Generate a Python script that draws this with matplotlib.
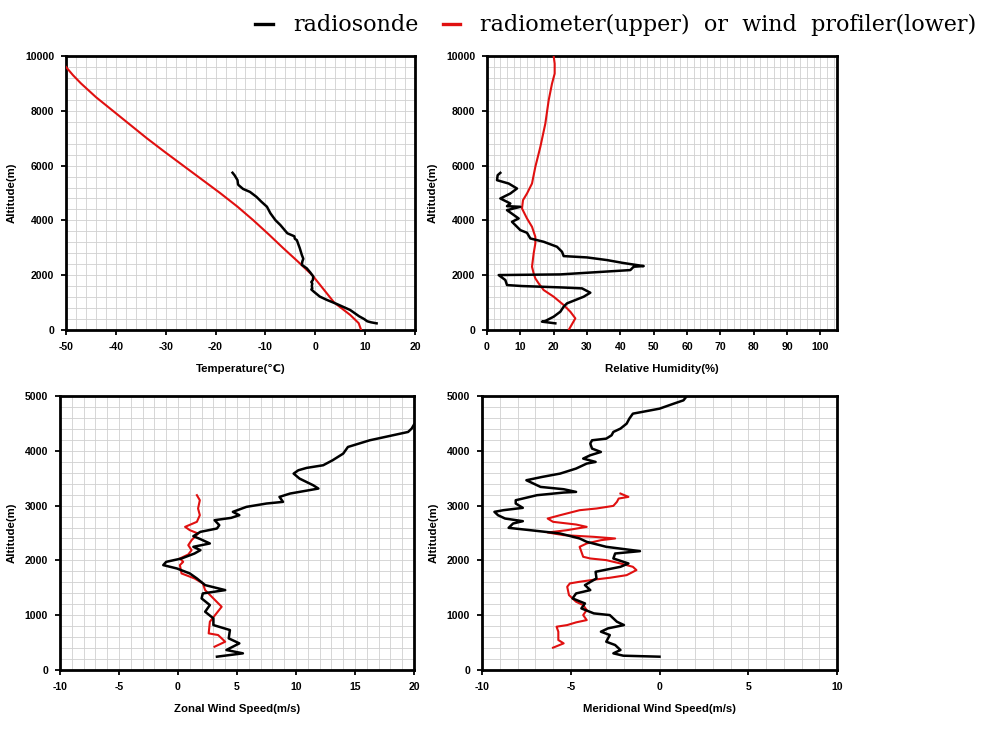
import matplotlib
matplotlib.use("Agg")
import matplotlib.pyplot as plt
from matplotlib.lines import Line2D
from matplotlib.ticker import MultipleLocator
import numpy as np

plt.rcParams["axes.unicode_minus"] = False

# ---------------- data ----------------
# Temperature panel
temp_sonde_alt = [243, 280, 320, 400, 500, 730, 950, 1100, 1220, 1400, 1480, 1520, 1600, 1700, 1750,
                  1820, 1950, 2100, 2250, 2380, 2500, 2600, 2740, 2980, 3280, 3330, 3420, 3530, 3830,
                  4010, 4260, 4500, 4680, 4860, 5040, 5150, 5290, 5320, 5470, 5650, 5740]
temp_sonde_val = [12.3, 11.2, 10.4, 9.8, 8.8, 7.0, 4.3, 2.3, 0.9, -0.3, -0.8, -0.6, -0.7, -0.6, -0.8,
                  -0.5, -0.4, -1.0, -1.7, -2.7, -2.6, -2.4, -2.7, -3.1, -3.7, -4.1, -4.2, -5.6, -7.0,
                  -8.0, -9.0, -9.7, -10.8, -11.8, -13.1, -14.5, -15.4, -15.5, -15.6, -16.2, -16.6]
temp_radio_alt = [0, 250, 550, 1000, 1500, 2000, 2500, 3000, 3500, 4000, 4500, 5000, 5500, 6000,
                  6500, 7000, 7500, 8000, 8500, 9000, 9300, 9600]
temp_radio_val = [9.2, 8.7, 7.0, 3.8, 1.6, -0.6, -3.5, -6.5, -9.4, -12.4, -15.6, -19.1, -22.8, -26.5,
                  -30.2, -33.8, -37.2, -40.6, -44.0, -47.0, -48.6, -50.0]

# Relative humidity panel
rh_sonde_alt = [243, 304, 330, 486, 668, 851, 972, 1069, 1215, 1361, 1519, 1555, 1604, 1640, 1823,
                2005, 2029, 2187, 2309, 2333, 2406, 2454, 2552, 2649, 2697, 2855, 3038, 3220, 3341,
                3548, 3645, 3949, 4070, 4374, 4496, 4520, 4617, 4800, 4982, 5164, 5346, 5468, 5650, 5735]
rh_sonde_val = [20.5, 16.5, 17.5, 20, 22, 23, 24, 26, 29, 31, 28.5, 22, 10.5, 6, 5.5,
                3.5, 22, 43, 44, 47, 43, 40.5, 36, 30, 23, 22.5, 21, 17, 13,
                12, 10, 7.5, 9.5, 6, 10, 6, 7, 4, 7, 9, 6.5, 3, 3.2, 4]
rh_radio_alt = [0, 425, 668, 911, 1215, 1458, 1701, 1883, 2066, 2309, 2795, 3159, 3402, 3767, 4070,
                4435, 4739, 4982, 5346, 5954, 6683, 7533, 8384, 8991, 9356, 9721, 10000]
rh_radio_val = [24.5, 26.5, 25, 23, 20, 17, 15.5, 14.5, 14, 13.5, 14, 14.5, 14.5, 13.5, 12,
                10.5, 10.8, 12, 13.5, 14.5, 16, 17.5, 18.5, 19.5, 20.3, 20.3, 20]

# Zonal wind panel
u_sonde_alt = [243, 304, 365, 486, 577, 729, 820, 942, 1063, 1185, 1306, 1397, 1458, 1549, 1671,
               1762, 1853, 1914, 1974, 2035, 2126, 2187, 2248, 2309, 2388, 2442, 2521, 2582, 2643,
               2734, 2776, 2825, 2886, 2977, 3038, 3068, 3159, 3220, 3311, 3372, 3493, 3584, 3645,
               3688, 3736, 3827, 3949, 4070, 4192, 4283, 4344, 4405, 4478]
u_sonde_val = [3.3, 5.5, 4.1, 5.2, 4.3, 4.4, 3.0, 3.0, 2.3, 2.7, 2.0, 2.1, 4.0, 2.3, 1.6,
               1.0, -0.1, -1.25, -1.0, 0.3, 1.4, 1.9, 1.3, 2.7, 1.9, 1.3, 1.9, 3.3, 3.5,
               3.1, 4.5, 5.2, 4.65, 5.8, 7.5, 8.9, 8.6, 9.5, 11.9, 11.45, 10.3, 9.8, 10.2,
               10.9, 12.3, 13.1, 14.0, 14.4, 16.25, 18.2, 19.5, 19.8, 20.0]
u_prof_alt = [425, 516, 638, 668, 881, 1154, 1306, 1458, 1580, 1671, 1762, 1914, 1974, 2035, 2108,
              2187, 2278, 2369, 2491, 2552, 2612, 2704, 2825, 2947, 3098, 3190]
u_prof_val = [3.1, 4.0, 3.4, 2.6, 2.7, 3.7, 3.0, 2.3, 2.1, 1.4, 0.3, 0.16, 0.44, 0.16, 0.87,
              1.15, 0.87, 1.15, 1.7, 1.0, 0.6, 1.6, 1.85, 1.7, 1.85, 1.6]

# Meridional wind panel
v_sonde_alt = [243, 261, 304, 365, 456, 516, 638, 699, 760, 820, 881, 1002, 1033, 1124, 1215, 1306,
               1397, 1458, 1549, 1671, 1792, 1883, 1944, 2035, 2126, 2169, 2248, 2339, 2400, 2491,
               2552, 2594, 2673, 2716, 2764, 2825, 2886, 2916, 2959, 3038, 3098, 3190, 3238, 3250,
               3299, 3341, 3402, 3463, 3524, 3584, 3676, 3767, 3797, 3858, 3919, 3979, 4040, 4131,
               4192, 4222, 4283, 4344, 4405, 4496, 4587, 4678, 4708, 4769, 4860, 4921, 4982]
v_sonde_val = [0.0, -2.04, -2.6, -2.2, -2.5, -3.0, -2.8, -3.3, -2.9, -2.0, -2.4, -2.8, -3.7, -4.4, -4.2, -4.9,
               -4.7, -3.9, -4.2, -3.55, -3.6, -2.2, -1.75, -2.6, -2.5, -1.1, -3.0, -4.1, -4.5, -5.6,
               -7.3, -8.5, -8.25, -7.7, -8.7, -9.1, -9.3, -8.8, -7.7, -8.1, -8.1, -6.9, -5.4, -4.7,
               -5.4, -6.7, -7.1, -7.5, -6.6, -5.6, -4.7, -4.1, -3.6, -4.3, -3.9, -3.3, -3.8, -3.9,
               -3.8, -3.0, -2.7, -2.6, -2.2, -1.85, -1.7, -1.5, -1.0, 0.0, 0.8, 1.35, 1.5]
v_prof_alt = [407, 486, 547, 699, 790, 820, 869, 911, 1002, 1094, 1185, 1245, 1367, 1519, 1580, 1610,
              1652, 1683, 1731, 1823, 1883, 1944, 2005, 2035, 2066, 2157, 2248, 2309, 2369, 2400,
              2430, 2461, 2509, 2552, 2612, 2655, 2704, 2764, 2825, 2916, 2947, 2995, 3068, 3129,
              3159, 3220]
v_prof_val = [-6.0, -5.4, -5.7, -5.7, -5.8, -5.2, -4.7, -4.1, -4.3, -4.1, -4.3, -4.7, -5.1, -5.2, -5.05, -4.5,
              -3.6, -2.8, -1.85, -1.3, -1.5, -2.2, -3.0, -3.9, -4.3, -4.4, -4.5, -4.1, -3.3, -2.5,
              -3.7, -5.4, -6.3, -5.2, -4.1, -4.7, -6.0, -6.3, -5.6, -4.5, -3.55, -2.6, -2.4, -2.3,
              -1.75, -2.2]

legend_labels = ["radiosonde", "radiometer(upper)  or  wind  profiler(lower)"]
x_labels = ["Temperature(\u2103)", "Relative Humidity(%)", "Zonal Wind Speed(m/s)", "Meridional Wind Speed(m/s)"]
y_label = "Altitude(m)"

# ---------------- figure ----------------
W, H = 991, 729
fig = plt.figure(figsize=(W / 100, H / 100), dpi=100)
sans = ["Liberation Sans", "DejaVu Sans"]

def rect(l, t, r, b):
    return [l / W, 1 - b / H, (r - l) / W, (b - t) / H]

panels = [
    dict(rect=rect(66, 56, 415, 330), xlim=(-50, 20), xmin=2, ylim=(0, 10000), ymaj=2000, ymin=400,
         xt=np.arange(-50, 21, 10),
         black=(temp_sonde_val, temp_sonde_alt), red=(temp_radio_val, temp_radio_alt)),
    dict(rect=rect(487, 56, 837, 330), xlim=(0, 105), xmin=2, ylim=(0, 10000), ymaj=2000, ymin=400,
         xt=np.arange(0, 101, 10),
         black=(rh_sonde_val, rh_sonde_alt), red=(rh_radio_val, rh_radio_alt)),
    dict(rect=rect(60, 396, 414, 670), xlim=(-10, 20), xmin=1, ylim=(0, 5000), ymaj=1000, ymin=200,
         xt=np.arange(-10, 21, 5),
         black=(u_sonde_val, u_sonde_alt), red=(u_prof_val, u_prof_alt)),
    dict(rect=rect(482, 396, 837, 670), xlim=(-10, 10), xmin=1, ylim=(0, 5000), ymaj=1000, ymin=200,
         xt=np.arange(-10, 11, 5),
         black=(v_sonde_val, v_sonde_alt), red=(v_prof_val, v_prof_alt)),
]

grid_c = "#d0d0d0"
for i, p in enumerate(panels):
    ax = fig.add_axes(p["rect"])
    ax.set_xlim(*p["xlim"])
    ax.set_ylim(*p["ylim"])
    ax.set_xticks(p["xt"])
    ax.xaxis.set_minor_locator(MultipleLocator(p["xmin"]))
    ax.yaxis.set_major_locator(MultipleLocator(p["ymaj"]))
    ax.yaxis.set_minor_locator(MultipleLocator(p["ymin"]))
    ax.grid(True, which="both", color=grid_c, linewidth=0.6)
    ax.set_axisbelow(True)
    for s in ax.spines.values():
        s.set_linewidth(2.0)
        s.set_color("black")
    ax.tick_params(which="major", direction="out", length=3.5, width=1.3, color="black", pad=5,
                   top=False, right=False)
    ax.tick_params(which="minor", length=0)
    for lab in ax.get_xticklabels() + ax.get_yticklabels():
        lab.set_fontfamily(sans)
        lab.set_fontweight("bold")
        lab.set_fontsize(7.6)
    ax.plot(p["red"][0], p["red"][1], color="#e01010", lw=1.5, zorder=3)
    ax.plot(p["black"][0], p["black"][1], color="black", lw=1.8, zorder=4)
    ax.set_xlabel(x_labels[i], fontfamily=sans, fontweight="bold", fontsize=8.2, labelpad=9)
    ax.set_ylabel(y_label, fontfamily=sans, fontweight="bold", fontsize=8.2, labelpad=6)

handles = [Line2D([], [], color="black", lw=2.4), Line2D([], [], color="#e01010", lw=2.4)]
fig.legend(handles, legend_labels, loc="upper right", bbox_to_anchor=(990 / W, 1 - 1 / H),
           ncol=2, frameon=False, handlelength=0.8, handletextpad=0.9, columnspacing=1.1,
           prop=dict(family=["DejaVu Serif"], size=16), borderaxespad=0.2)

fig.savefig("out.png", dpi=100)
